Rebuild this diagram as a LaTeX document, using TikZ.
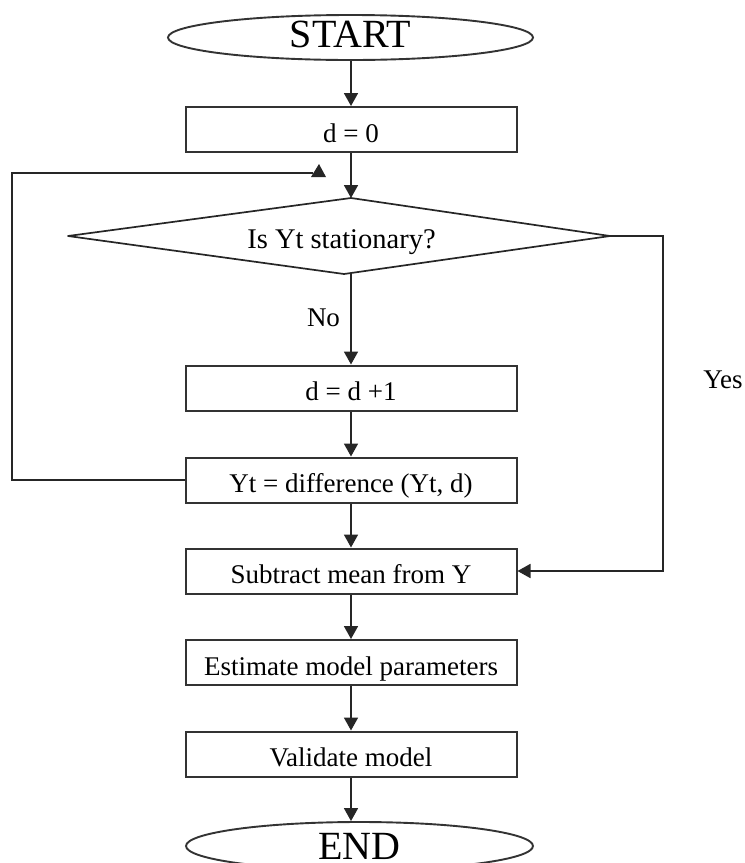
\documentclass[tikz,border=0pt]{standalone}
\usepackage{fontspec}
\setmainfont{Liberation Serif}
\usetikzlibrary{arrows.meta,shapes.geometric,calc}
\begin{document}
\begin{tikzpicture}[x=1pt,y=-1pt,
  line/.style={line width=1.8pt, draw=black!85},
  arr/.style={line, -{Triangle[length=13pt,width=14pt]}},
  proc/.style={draw=black!80, line width=2pt, rectangle, minimum width=331pt, minimum height=45pt,
    inner sep=0pt, font=\fontsize{27}{30}\selectfont, text height=30pt, text depth=5pt},
  term/.style={draw=black!80, line width=1.9pt, ellipse, inner xsep=0pt, inner ysep=-2pt,
    font=\fontsize{40}{44}\selectfont, text height=27pt},
  lbl/.style={font=\fontsize{27}{30}\selectfont, anchor=base, inner sep=0pt}]
\useasboundingbox (0,0) rectangle (745,863);

\node[term, minimum width=365pt, minimum height=45pt, text depth=8pt] (start) at (350.5,37.5) {START};
\node[proc] (d0) at (351,129.5) {d = 0};

\coordinate (dl) at (68,236);
\coordinate (dt) at (351,198);
\coordinate (dr) at (610,236);
\coordinate (db) at (344,274);
\draw[line, line width=1.7pt, line join=round] (dl) -- (dt) -- (dr) -- (db) -- cycle;
\node[font=\fontsize{28.5}{32}\selectfont, text height=19pt, text depth=0pt, inner sep=0pt] (q) at (341.5,239) {Is Yt stationary?};
\coordinate (dbo) at (351,273);

\node[proc] (d1) at (351,388) {d = d +1};
\node[proc] (yt) at (351,480) {Yt = difference (Yt, d)};
\node[proc] (sub) at (351,571) {Subtract mean from Y};
\node[proc] (est) at (351,662.5) {Estimate model parameters};
\node[proc] (val) at (351,754) {Validate model};
\node[term, minimum width=347pt, minimum height=48pt, text depth=1pt] (end) at (359.5,846) {END};

\draw[arr] (start.south -| d0.north) -- (d0.north);
\draw[arr] (d0.south) -- (dt);
\draw[arr] (dbo) -- (d1.north);
\draw[arr] (d1) -- (yt);
\draw[arr] (yt) -- (sub);
\draw[arr] (sub) -- (est);
\draw[arr] (est) -- (val);
\draw[arr] (val.south) -- (val.south |- end.north);

% Yes branch
\coordinate (yc) at (663,571);
\draw[arr] (dr) -| (yc) -- (sub.east);

% loop back
\coordinate (lc) at (12,173);
\coordinate (lend) at (313,173);
\draw[line] (yt.west) -| (lc) -- (lend);
\fill[black!85] ($(lend)+(-2,4)$) -- ($(lend)+(13,4)$) -- ($(lend)+(6,-9)$) -- cycle;

\node[lbl] (no) at (323.5,326.7) {No};
\node[lbl] (yes) at (723,388.3) {Yes};
\end{tikzpicture}
\end{document}
